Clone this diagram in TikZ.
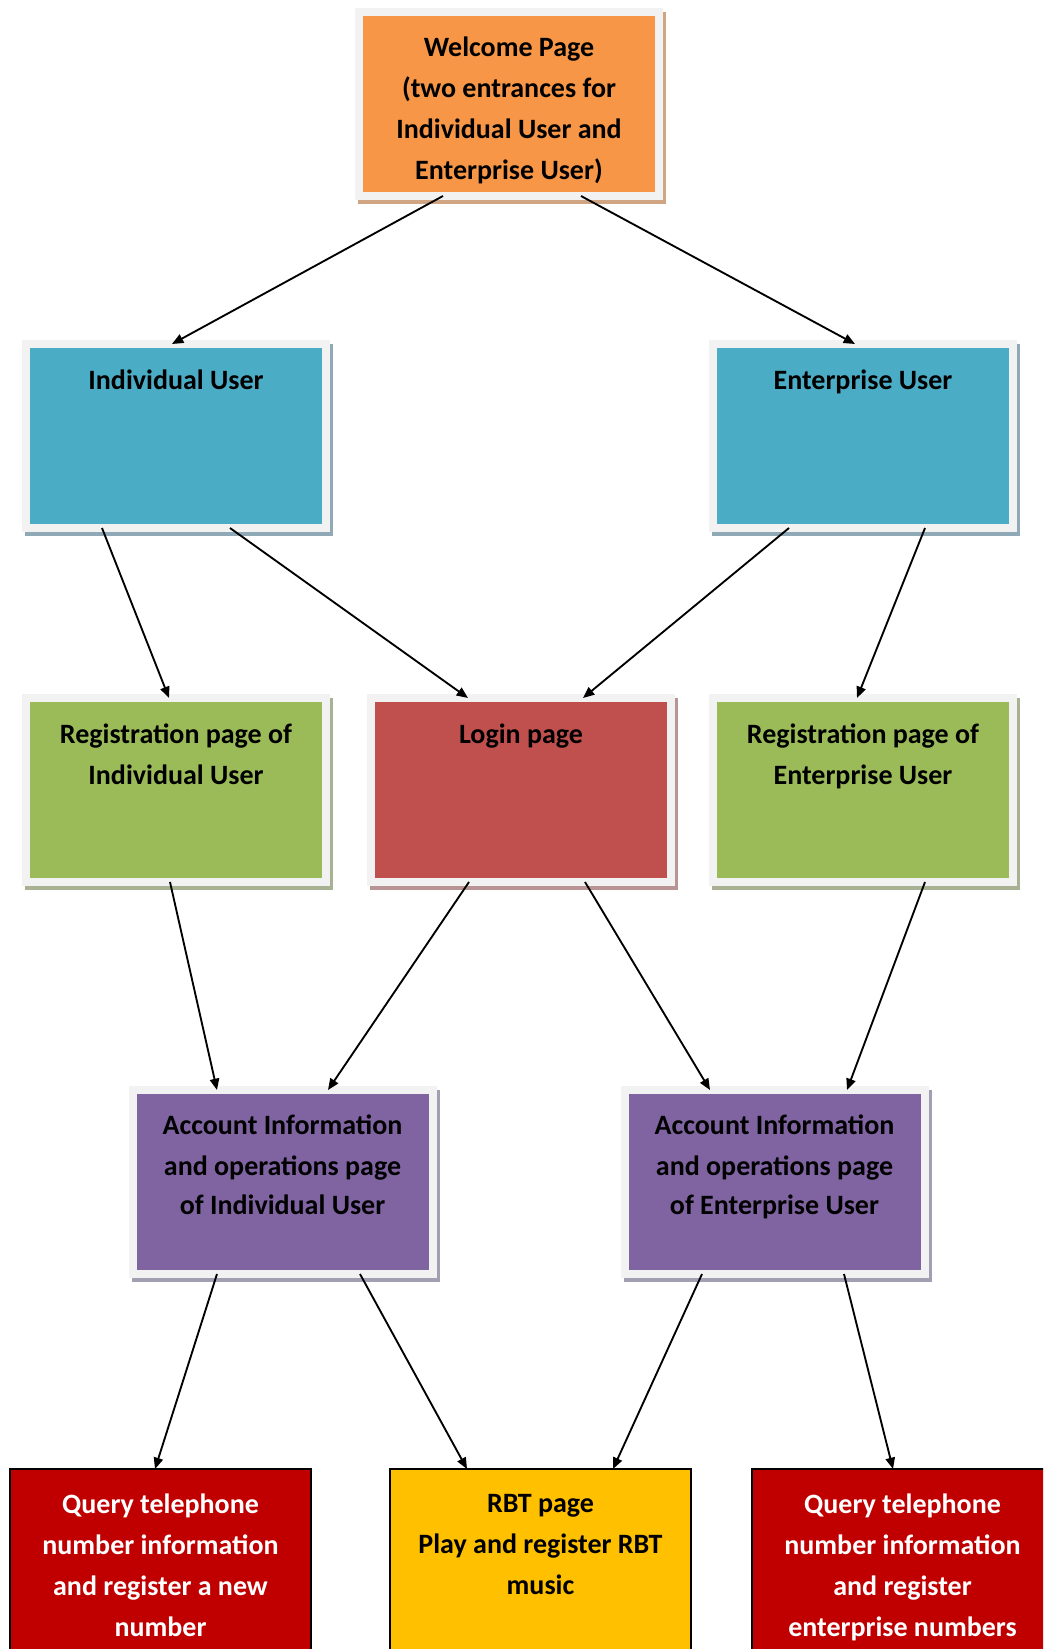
\documentclass[tikz,border=0pt]{standalone}
\usepackage{fontspec}
\setmainfont{Carlito}
\usetikzlibrary{arrows.meta,calc}

% page colours
\definecolor{framegray}{HTML}{F2F2F2}
\definecolor{welcfill}{HTML}{F79646}
\definecolor{welcshadow}{HTML}{CFA584}
\definecolor{userfill}{HTML}{4BACC6}
\definecolor{usershadow}{HTML}{8FAAB6}
\definecolor{loginfill}{HTML}{C0504D}
\definecolor{loginshadow}{HTML}{B89494}
\definecolor{regfill}{HTML}{9BBB59}
\definecolor{regshadow}{HTML}{A8B293}
\definecolor{accfill}{HTML}{8064A2}
\definecolor{accshadow}{HTML}{A39FB3}
\definecolor{queryfill}{HTML}{C00000}
\definecolor{rbtfill}{HTML}{FFC000}

% fixed height for the first line of every caption
\newcommand\firststrut{\rule{0pt}{18pt}}

\tikzset{
  framed/.style 2 args={draw=framegray, fill=#1, line width=6pt,
    outer sep=0pt, inner sep=0pt, minimum width=225pt, minimum height=138pt,
    preaction={draw=#2, fill=#2, line width=6pt,
      transform canvas={shift={(2.25pt,-3pt)}}}},
  plainbox/.style={draw=black, line width=0.8pt, fill=#1, outer sep=0pt,
    inner sep=0pt, minimum width=225.75pt, minimum height=172.5pt},
  txt/.style={font=\fontsize{21}{30.75}\selectfont\bfseries, align=center,
    inner sep=0pt, anchor=north},
  flow/.style={line width=1.4pt, -{Triangle[length=8.5pt,width=7pt]}}
}

\begin{document}
\begin{tikzpicture}[x=0.75pt,y=-0.75pt]
\useasboundingbox (0,0) rectangle (1043,1649);
\clip (0,0) rectangle (1043,1649);

% boxes
\node[framed={welcfill}{welcshadow}]   (welc)  at (509,104)    {};
\node[framed={userfill}{usershadow}]   (ind)   at (176,436)    {};
\node[framed={userfill}{usershadow}]   (ent)   at (863,436)    {};
\node[framed={regfill}{regshadow}]     (regi)  at (176,790)    {};
\node[framed={loginfill}{loginshadow}] (login) at (521,790)    {};
\node[framed={regfill}{regshadow}]     (rege)  at (863,790)    {};
\node[framed={accfill}{accshadow}]     (acci)  at (282.5,1182) {};
\node[framed={accfill}{accshadow}]     (acce)  at (774.5,1182) {};
\node[plainbox=queryfill] (qryi) at (160.5,1584) {};
\node[plainbox=rbtfill]   (rbt)  at (540.5,1584) {};
\node[plainbox=queryfill] (qrye) at (902.5,1584) {};

% captions
\node[txt] (welcT) at ($(welc.north)+(0,20)$)
  {\firststrut Welcome Page\\(two entrances for\\Individual User and\\Enterprise User)};
\node[txt] (indT) at ($(ind.north)+(0,21)$) {\firststrut Individual User};
\node[txt] (entT) at ($(ent.north)+(0,21)$) {\firststrut Enterprise User};
\node[txt] (regiT) at ($(regi.north)+(0,21)$)
  {\firststrut Registration page of\\Individual User};
\node[txt] (loginT) at ($(login.north)+(0,21)$) {\firststrut Login page};
\node[txt] (regeT) at ($(rege.north)+(0,21)$)
  {\firststrut Registration page of\\Enterprise User};
\node[txt] (acciT) at ($(acci.north)+(0,20.5)$)
  {\firststrut Account Information\\and operations page\\[-1.5pt]of Individual User};
\node[txt] (acceT) at ($(acce.north)+(0,20.5)$)
  {\firststrut Account Information\\and operations page\\[-1.5pt]of Enterprise User};
\node[txt, text=white] (qryiT) at ($(qryi.north)+(0,20)$)
  {\firststrut Query telephone\\number information\\and register a new\\number};
\node[txt] (rbtT) at ($(rbt.north)+(0,19)$)
  {\firststrut RBT page\\Play and register RBT\\music};
\node[txt, text=white] (qryeT) at ($(qrye.north)+(0,20)$)
  {\firststrut Query telephone\\number information\\and register\\enterprise numbers};

% connectors
\draw[flow] ($(welc.south)+(-66,0)$)   -- ($(ind.north)+(-4,0)$);
\draw[flow] ($(welc.south)+(72,0)$)    -- ($(ent.north)+(-8,0)$);
\draw[flow] ($(ind.south)+(-74,0)$)    -- ($(regi.north)+(-7,0)$);
\draw[flow] ($(ind.south)+(54,0)$)     -- ($(login.north)+(-53,0)$);
\draw[flow] ($(ent.south)+(-74,0)$)    -- ($(login.north)+(62,0)$);
\draw[flow] ($(ent.south)+(62,0)$)     -- ($(rege.north)+(-6,0)$);
\draw[flow] ($(regi.south)+(-6,0)$)    -- ($(acci.north)+(-65.5,0)$);
\draw[flow] ($(login.south)+(-52,0)$)  -- ($(acci.north)+(45.5,0)$);
\draw[flow] ($(login.south)+(64,0)$)   -- ($(acce.north)+(-64.5,0)$);
\draw[flow] ($(rege.south)+(62,0)$)    -- ($(acce.north)+(72.5,0)$);
\draw[flow] ($(acci.south)+(-65.5,0)$) -- ($(qryi.north)+(-5.5,0)$);
\draw[flow] ($(acci.south)+(77.5,0)$)  -- ($(rbt.north)+(-73.5,0)$);
\draw[flow] ($(acce.south)+(-72.5,0)$) -- ($(rbt.north)+(72.5,0)$);
\draw[flow] ($(acce.south)+(69.5,0)$)  -- ($(qrye.north)+(-9.5,0)$);
\end{tikzpicture}
\end{document}
